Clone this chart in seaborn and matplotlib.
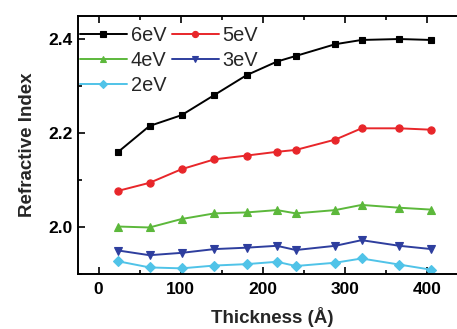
import matplotlib
matplotlib.use("Agg")
import matplotlib.pyplot as plt
from matplotlib.ticker import MultipleLocator
import seaborn as sns
import pandas as pd

# Film thickness (Å) and refractive index at each photon energy
thickness = [24, 62, 101, 141, 180, 217, 240, 288, 320, 366, 405]
n_6ev = [2.160, 2.215, 2.238, 2.281, 2.323, 2.352, 2.364, 2.389, 2.398, 2.400, 2.398]
n_5ev = [2.077, 2.094, 2.123, 2.144, 2.152, 2.160, 2.164, 2.186, 2.210, 2.210, 2.207]
n_4ev = [2.001, 1.999, 2.017, 2.029, 2.031, 2.036, 2.029, 2.036, 2.047, 2.041, 2.037]
n_3ev = [1.950, 1.940, 1.945, 1.953, 1.956, 1.960, 1.951, 1.960, 1.972, 1.960, 1.953]
n_2ev = [1.927, 1.914, 1.912, 1.918, 1.921, 1.926, 1.917, 1.924, 1.933, 1.920, 1.909]

energies = ["6eV", "5eV", "4eV", "3eV", "2eV"]
series = [n_6ev, n_5ev, n_4ev, n_3ev, n_2ev]
colors = ["#000000", "#E8262A", "#5CB83B", "#2E3E9E", "#50C3E8"]
markers = ["s", "o", "^", "v", "D"]
msizes = [4.3, 5.2, 5.6, 5.6, 4.6]

rows = []
for e, vals in zip(energies, series):
    for t, v in zip(thickness, vals):
        rows.append({"Thickness": t, "n": v, "Energy": e})
df = pd.DataFrame(rows)

sns.set_theme(style="ticks")
plt.rcParams["font.family"] = ["Liberation Sans", "DejaVu Sans"]

fig = plt.figure(figsize=(4.57, 3.29), dpi=100)
ax = fig.add_axes([78 / 457, 55 / 329, (466 - 78) / 457, (274 - 16) / 329])

for e, c, m, ms in zip(energies, colors, markers, msizes):
    sns.lineplot(data=df[df["Energy"] == e], x="Thickness", y="n", ax=ax,
                 color=c, marker=m, markersize=ms, markeredgecolor=c,
                 markeredgewidth=0.8, linewidth=1.4, label=e, legend=False)

ax.set_xlim(-25, 447)
ax.set_ylim(1.90, 2.449)
ax.xaxis.set_major_locator(MultipleLocator(100))
ax.xaxis.set_minor_locator(MultipleLocator(50))
ax.yaxis.set_major_locator(MultipleLocator(0.2))
ax.yaxis.set_minor_locator(MultipleLocator(0.1))
ax.yaxis.set_major_formatter(matplotlib.ticker.FormatStrFormatter("%.1f"))

ax.tick_params(which="both", direction="in", top=True, right=False, width=1.2,
               colors="black")
ax.tick_params(which="major", length=5)
ax.tick_params(which="minor", length=3)
ax.tick_params(axis="x", which="major", pad=6)
ax.tick_params(axis="y", which="major", pad=4)
for lab in ax.get_xticklabels() + ax.get_yticklabels():
    lab.set_fontweight("bold")
    lab.set_fontsize(12.5)

for side in ["left", "bottom", "top"]:
    ax.spines[side].set_linewidth(1.4)
    ax.spines[side].set_color("black")
ax.spines["right"].set_visible(False)

ax.set_xlabel("Thickness (Å)", fontsize=13.5, fontweight="bold", labelpad=7)
ax.set_ylabel("Refractive Index", fontsize=13.5, fontweight="bold", labelpad=9)

handles, labels = ax.get_legend_handles_labels()
order = [0, 2, 4, 1, 3]
ax.legend([handles[i] for i in order], [labels[i] for i in order],
          ncol=2, loc="upper left", frameon=False, fontsize=14.4,
          handlelength=2.35, handletextpad=0.2, columnspacing=0.25,
          labelspacing=0.28, borderaxespad=0.0, borderpad=0.0,
          markerscale=0.85, bbox_to_anchor=(0.005, 0.96))

fig.savefig("out.png", dpi=100)
